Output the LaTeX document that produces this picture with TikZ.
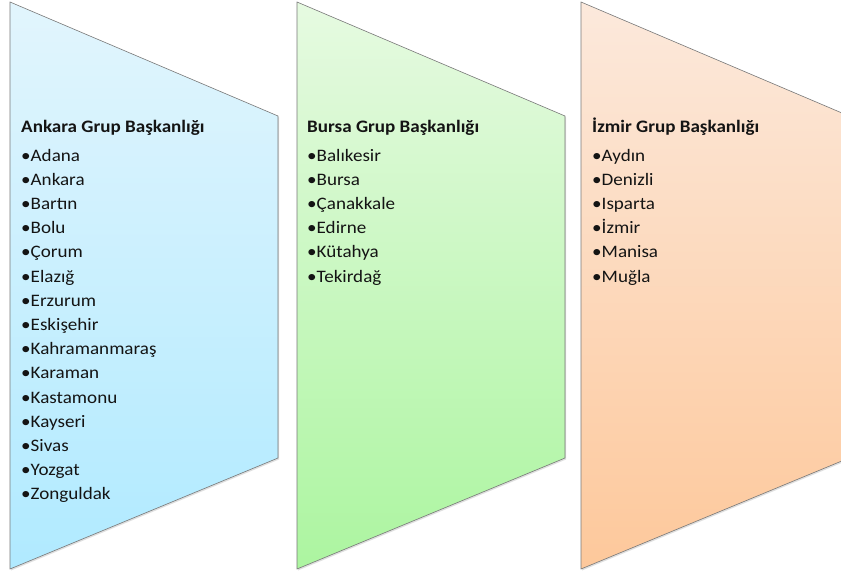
\documentclass[tikz,border=0pt]{standalone}
\usepackage{fontspec}
\setmainfont{Carlito}[FakeStretch=1.09]
\usetikzlibrary{shadows}
\definecolor{bluetop}{RGB}{226,245,253}
\definecolor{bluebot}{RGB}{176,234,255}
\definecolor{greentop}{RGB}{230,250,225}
\definecolor{greenbot}{RGB}{172,245,160}
\definecolor{orangetop}{RGB}{252,233,220}
\definecolor{orangebot}{RGB}{253,200,155}
\definecolor{edge}{RGB}{120,120,120}
\definecolor{txt}{RGB}{20,20,20}
\tikzset{
  x=1pt, y=-1pt,
  panel/.style={draw=edge, line width=0.6pt, line join=miter,
    drop shadow={shadow xshift=1pt, shadow yshift=-1.5pt, opacity=0.25}},
  titletext/.style={anchor=base west, inner sep=0pt, font=\fontsize{17.5}{20}\selectfont\bfseries, text=txt},
  itemtext/.style={anchor=base west, inner sep=0pt, font=\fontsize{17.5}{20}\selectfont, text=txt},
}
\newcommand{\panelat}[3]{%
  \path[panel, top color=#2, bottom color=#3]
    (#1,2) -- (#1+268,116) -- (#1+268,458) -- (#1,569) -- cycle;}
\begin{document}
\begin{tikzpicture}
\useasboundingbox (0,0) rectangle (841,575);
\clip (0,0) rectangle (841,575);
\fill[white] (0,0) rectangle (841,575);
\panelat{10}{bluetop}{bluebot}
\panelat{297}{greentop}{greenbot}
\panelat{581}{orangetop}{orangebot}

\node[titletext] (ta) at (21,133) {Ankara Grup Başkanlığı};
\foreach \t [count=\i] in {Adana,Ankara,Bartın,Bolu,Çorum,Elazığ,Erzurum,Eskişehir,Kahramanmaraş,Karaman,Kastamonu,Kayseri,Sivas,Yozgat,Zonguldak}
  \node[itemtext] (a\i) at (21,136.8+24.2*\i) {•\t};

\node[titletext] (tb) at (307,133) {Bursa Grup Başkanlığı};
\foreach \t [count=\i] in {Balıkesir,Bursa,Çanakkale,Edirne,Kütahya,Tekirdağ}
  \node[itemtext] (b\i) at (307,136.8+24.2*\i) {•\t};

\node[titletext] (tc) at (592,133) {İzmir Grup Başkanlığı};
\foreach \t [count=\i] in {Aydın,Denizli,Isparta,İzmir,Manisa,Muğla}
  \node[itemtext] (c\i) at (592,136.8+24.2*\i) {•\t};
\end{tikzpicture}
\end{document}
